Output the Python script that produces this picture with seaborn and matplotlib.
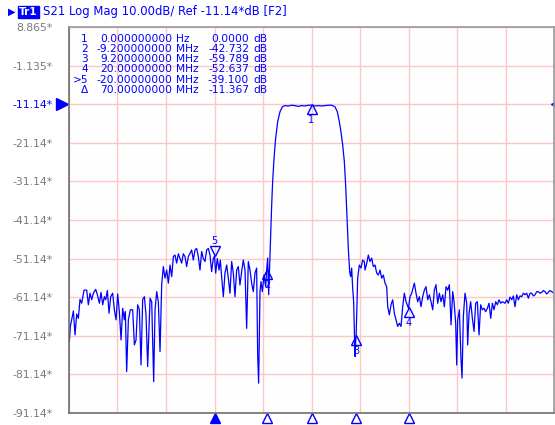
import numpy as np
import pandas as pd
import matplotlib
matplotlib.use("Agg")
import matplotlib.pyplot as plt
import matplotlib.transforms as mtransforms
import seaborn as sns

# ------------------------------------------------------------
# Datos (S21, frecuencia relativa en MHz)
# ------------------------------------------------------------
freq_mhz = [
    -49.93, -49.72, -49.45, -49.10, -48.76, -48.41, -48.07, -47.73, -47.38, -46.90,
    -46.35, -46.01, -45.67, -45.32, -44.98, -44.50, -44.15, -43.74, -43.40, -43.05,
    -42.71, -42.43, -42.09, -41.75, -41.40, -40.99, -40.65, -40.30, -39.96, -39.62,
    -39.27, -38.93, -38.59, -38.38, -38.11, -37.76, -37.35, -36.87, -36.52, -36.18,
    -35.84, -35.49, -35.15, -34.81, -34.46, -34.12, -33.78, -33.29, -32.95, -32.54,
    -32.26, -31.92, -31.58, -31.23, -30.89, -30.55, -30.20, -29.86, -29.51, -29.17,
    -28.83, -28.48, -28.15, -27.80, -27.46, -27.12, -26.77, -26.43, -26.09, -25.74,
    -25.40, -25.05, -24.71, -24.37, -24.02, -23.68, -23.34, -22.99, -22.65, -22.31,
    -21.96, -21.62, -21.27, -20.93, -20.59, -20.24, -20.00, -19.76, -19.42, -19.07,
    -18.80, -18.53, -18.18, -17.84, -17.49, -17.15, -16.81, -16.46, -16.12, -15.78,
    -15.43, -15.09, -14.75, -14.40, -14.06, -13.71, -13.37, -13.03, -12.68, -12.34,
    -12.00, -11.65, -11.31, -11.10, -10.90, -10.62, -10.41, -10.14, -9.79, -9.45,
    -9.24, -9.04, -8.83, -8.63, -8.42, -8.21, -8.01, -7.73, -7.39, -6.98,
    -6.50, -6.01, -5.47, -4.78, -4.09, -3.40, -2.72, -2.03, -1.34, -0.65,
    0.03, 0.72, 1.41, 2.10, 2.78, 3.47, 4.16, 4.84, 5.33, 5.74,
    6.08, 6.43, 6.77, 7.04, 7.32, 7.59, 7.87, 8.07, 8.28, 8.49,
    8.69, 8.83, 8.97, 9.11, 9.20, 9.38, 9.52, 9.86, 10.21, 10.55,
    10.89, 11.03, 11.38, 11.72, 12.06, 12.41, 12.75, 13.10, 13.44, 13.78,
    14.13, 14.47, 14.81, 15.16, 15.50, 15.71, 16.05, 16.39, 16.74, 17.08,
    17.43, 17.77, 18.11, 18.46, 18.80, 19.14, 19.49, 20.00, 20.31, 20.66,
    21.00, 21.21, 21.55, 21.89, 22.24, 22.58, 22.92, 23.27, 23.61, 23.96,
    24.30, 24.64, 24.99, 25.33, 25.67, 26.02, 26.36, 26.70, 27.05, 27.39,
    27.74, 28.08, 28.42, 28.77, 29.11, 29.39, 29.73, 29.94, 30.14, 30.49,
    30.83, 31.04, 31.31, 31.65, 32.00, 32.20, 32.48, 32.82, 33.17, 33.51,
    33.85, 34.20, 34.54, 34.88, 35.23, 35.57, 35.91, 36.26, 36.60, 36.95,
    37.29, 37.63, 37.98, 38.32, 38.66, 39.01, 39.35, 39.90, 40.25, 40.59,
    40.93, 41.28, 41.62, 41.96, 42.31, 42.65, 42.99, 43.34, 43.68, 44.02,
    44.37, 44.71, 45.06, 45.40, 45.74, 46.09, 46.43, 46.77, 47.12, 47.46,
    47.80, 48.15, 48.49, 48.83, 49.18, 49.52, 50.00,
]
s21_db = [
    -72.6, -68.7, -67.0, -64.7, -70.9, -65.5, -66.6, -61.7, -62.7, -59.3,
    -59.3, -63.1, -60.1, -61.8, -60.1, -59.1, -60.5, -62.7, -59.9, -63.1,
    -61.0, -61.8, -59.4, -65.3, -61.0, -60.1, -64.4, -67.0, -60.3, -64.9,
    -72.2, -64.0, -67.0, -64.9, -80.4, -67.0, -64.4, -64.4, -73.5, -72.2,
    -63.1, -64.4, -78.7, -61.8, -61.0, -65.7, -79.1, -61.4, -62.3, -83.0,
    -64.4, -59.7, -62.3, -75.2, -57.9, -53.2, -56.2, -54.1, -57.5, -52.8,
    -55.8, -50.6, -50.2, -52.3, -49.9, -51.1, -52.3, -49.9, -50.6, -53.2,
    -50.6, -49.8, -48.9, -51.5, -48.9, -48.5, -50.6, -54.1, -49.3, -51.1,
    -51.9, -48.9, -48.5, -50.2, -54.5, -51.1, -50.5, -54.9, -51.1, -54.1,
    -51.5, -55.8, -61.0, -54.9, -52.8, -56.2, -60.1, -51.9, -54.9, -61.0,
    -54.1, -53.2, -58.0, -54.5, -51.5, -54.1, -69.2, -51.9, -54.1, -57.5,
    -59.7, -54.9, -53.6, -76.1, -83.4, -59.7, -57.1, -59.7, -55.4, -58.4,
    -54.1, -51.0, -60.5, -52.8, -45.0, -37.2, -31.2, -25.2, -20.0, -15.7,
    -13.1, -11.8, -11.5, -11.6, -11.4, -11.5, -11.7, -11.5, -11.6, -11.4,
    -11.4, -11.6, -11.5, -11.6, -11.5, -11.4, -11.4, -11.8, -13.1, -15.7,
    -18.3, -21.7, -26.0, -32.1, -40.7, -48.5, -54.5, -55.8, -53.6, -58.8,
    -62.3, -69.2, -76.5, -72.6, -71.2, -62.3, -56.2, -52.8, -53.6, -51.5,
    -51.9, -54.1, -52.4, -50.2, -51.9, -51.0, -53.2, -52.8, -54.9, -55.4,
    -54.1, -56.2, -55.4, -57.5, -58.4, -63.6, -65.7, -63.1, -61.8, -65.3,
    -67.0, -68.7, -67.9, -68.7, -63.6, -60.1, -62.3, -64.0, -61.0, -60.1,
    -58.4, -57.5, -60.1, -62.3, -61.0, -63.6, -61.0, -59.3, -58.4, -61.8,
    -60.5, -62.3, -64.4, -59.3, -57.9, -62.7, -60.1, -62.3, -60.5, -63.6,
    -58.4, -59.3, -57.9, -68.3, -59.7, -62.3, -67.9, -78.7, -67.0, -64.4,
    -77.4, -82.1, -66.1, -60.1, -62.7, -73.5, -65.3, -62.3, -66.6, -70.0,
    -62.7, -62.3, -70.9, -63.1, -64.4, -64.0, -64.9, -64.0, -62.7, -66.6,
    -62.7, -64.4, -62.3, -63.1, -61.8, -62.7, -62.3, -62.7, -61.8, -62.7,
    -61.1, -61.8, -60.8, -63.6, -60.5, -61.8, -60.8, -61.0, -60.1, -60.5,
    -60.1, -61.4, -60.1, -60.1, -60.8, -60.5, -59.7, -59.7, -60.1, -59.9,
    -59.4, -59.7, -60.3, -59.9, -59.4, -59.7, -60.1,
]

# marcadores (frecuencia MHz, valor relativo dB)
marker_ids = ["1", "2", "3", "4", "5"]
marker_freq = [0.0, -9.2, 9.2, 20.0, -20.0]
marker_rel = [0.0000, -42.732, -59.789, -52.637, -39.100]
ref_db = -11.367
active_marker = "5"

table_ids = ["1", "2", "3", "4", ">5", "\u0394"]
table_freq = ["0.000000000", "-9.200000000", "9.200000000",
              "20.00000000", "-20.00000000", "70.00000000"]
table_unit = ["Hz", "MHz", "MHz", "MHz", "MHz", "MHz"]
table_val = ["0.0000", "-42.732", "-59.789", "-52.637", "-39.100", "-11.367"]

ytick_vals = [8.865 - 10 * i for i in range(11)]
ytick_labels = ["8.865*", "-1.135*", "-11.14*", "-21.14*", "-31.14*", "-41.14*",
                "-51.14*", "-61.14*", "-71.14*", "-81.14*", "-91.14*"]

df = pd.DataFrame({"f": freq_mhz, "db": s21_db})

# ------------------------------------------------------------
# Figura
# ------------------------------------------------------------
sns.set_style("white")
plt.rcParams["font.family"] = ["DejaVu Sans"]
BLUE = "#0000ff"
GRID = "#ffc6c6"
GREY = "#7a7a7a"

fig = plt.figure(figsize=(5.55, 4.25), dpi=100, facecolor="white")
W, H = 555, 425
ax = fig.add_axes([69 / W, 12 / H, 485 / W, 386 / H])
ax.set_facecolor("#fefefe")

sns.lineplot(data=df, x="f", y="db", ax=ax, color=BLUE, lw=0.9,
             estimator=None, sort=False)

ax.set_xlim(-50, 50)
ax.set_ylim(-91.135, 8.865)
ax.set_xticks(np.arange(-50, 51, 10))
ax.set_xticklabels([])
ax.set_yticks(ytick_vals)
ax.set_yticklabels(ytick_labels)
ax.tick_params(axis="both", length=0)
ax.tick_params(axis="y", pad=12, labelsize=7.8, labelcolor=GREY)
for lab in ax.get_yticklabels():
    if lab.get_text() == "-11.14*":
        lab.set_color(BLUE)
ax.grid(True, color=GRID, lw=1.0)
ax.set_xlabel("")
ax.set_ylabel("")
for name, sp in ax.spines.items():
    sp.set_color("#9a9a9a")
    sp.set_linewidth(1.2)
ax.spines["left"].set_color("#6e6e6e")
ax.spines["bottom"].set_color("#6e6e6e")

# marcadores sobre la traza
down = mtransforms.offset_copy(ax.transData, fig=fig, x=0, y=-4, units="dots")
up = mtransforms.offset_copy(ax.transData, fig=fig, x=0, y=5, units="dots")
for mid, mf, mr in zip(marker_ids, marker_freq, marker_rel):
    v = mr + ref_db
    if mid == active_marker:
        ax.plot(mf, v, marker="v", ms=7, mfc="none", mec=BLUE, mew=1,
                transform=up, clip_on=False)
        ax.annotate(mid, (mf, v), xytext=(0, 15), textcoords="offset pixels",
                    ha="center", va="center", color=BLUE, fontsize=7)
    else:
        ax.plot(mf, v, marker="^", ms=7, mfc="none", mec=BLUE, mew=1,
                transform=down, clip_on=False)
        ax.annotate(mid, (mf, v), xytext=(0, -15), textcoords="offset pixels",
                    ha="center", va="center", color=BLUE, fontsize=7)

# indicadores en el eje inferior
bot = mtransforms.blended_transform_factory(ax.transData, ax.transAxes)
for mid, mf in zip(marker_ids, marker_freq):
    filled = mid == active_marker
    ax.plot(mf, -0.014, marker="^", ms=7.5, mfc=BLUE if filled else "white",
            mec=BLUE, mew=1, transform=bot, clip_on=False)

# referencia -11.14 a izquierda y derecha
side = mtransforms.blended_transform_factory(ax.transAxes, ax.transData)
ax.plot(-0.014, -11.135, marker=">", ms=8, color=BLUE, transform=side, clip_on=False)
ax.plot(1.0, -11.135, marker="<", ms=4, color=BLUE, transform=side, clip_on=False)

# cabecera
fig.text(8 / W, 1 - 12 / H, "\u25b6", color=BLUE, fontsize=7, va="center", ha="left")
fig.text(19 / W, 1 - 12 / H, "Tr1", color="white", fontsize=7.5, va="center",
         ha="left", fontweight="bold",
         bbox=dict(boxstyle="square,pad=0.12", fc=BLUE, ec=BLUE))
fig.text(43 / W, 1 - 12 / H, "S21 Log Mag 10.00dB/ Ref -11.14*dB [F2]",
         color=BLUE, fontsize=8.4, va="center", ha="left")

# tabla de marcadores
row_y = [38.5, 48.8, 59.1, 69.4, 79.7, 90.0]
for i, yy in enumerate(row_y):
    fy = 1 - yy / H
    fig.text(88 / W, fy, table_ids[i], color=BLUE, fontsize=7.7, ha="right", va="center")
    fig.text(172 / W, fy, table_freq[i], color=BLUE, fontsize=7.7, ha="right", va="center")
    fig.text(176 / W, fy, table_unit[i], color=BLUE, fontsize=7.7, ha="left", va="center")
    fig.text(249 / W, fy, table_val[i], color=BLUE, fontsize=7.7, ha="right", va="center")
    fig.text(253 / W, fy, "dB", color=BLUE, fontsize=7.7, ha="left", va="center")

plt.savefig("out.png", dpi=100)
